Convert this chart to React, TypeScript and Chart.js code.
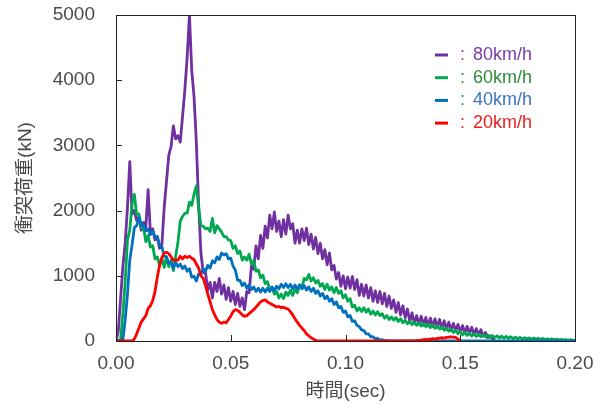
import React, { useEffect, useRef } from "react";
import { Chart, registerables } from "chart.js";

Chart.register(...registerables);

// Sampling interval of the recorded load histories (seconds)
const SAMPLE_STEP_S = 0.001;

const SERIES_LABELS = ["80km/h", "60km/h", "40km/h", "20km/h"];
const X_TICKS = [0, 0.05, 0.1, 0.15, 0.2];
const Y_TICKS = [0, 1000, 2000, 3000, 4000, 5000];

// Collision load (kN), one value per millisecond starting at t = 0
const LOAD_80 = [
  0, 150, 650, 1150, 1500, 2050, 2750, 1950, 2000, 1850,
  1900, 1700, 1820, 1750, 2320, 1650, 1720, 1550, 1600, 1420,
  1480, 2050, 2450, 2850, 2980, 3300, 3100, 3150, 3050, 3450,
  3850, 4350, 5000, 4150, 3750, 3050, 2100, 1350, 1050, 1050,
  780, 900, 660, 900, 760, 960, 720, 860, 640, 820,
  610, 760, 560, 730, 530, 660, 480, 760, 740, 1150,
  1100, 1460, 1260, 1620, 1420, 1760, 1580, 1930, 1720, 1980,
  1680, 1840, 1600, 1860, 1640, 1930, 1720, 1800, 1500, 1700,
  1500, 1720, 1540, 1730, 1480, 1640, 1410, 1590, 1340, 1500,
  1260, 1400, 1170, 1350, 1090, 1160, 950, 1050, 840, 1000,
  800, 980, 810, 990, 790, 940, 700, 870, 690, 860,
  660, 820, 610, 770, 590, 760, 570, 730, 530, 690,
  500, 630, 440, 590, 400, 540, 360, 490, 300, 430,
  270, 390, 260, 380, 240, 360, 230, 350, 220, 340,
  210, 330, 195, 310, 180, 290, 165, 270, 155, 255,
  135, 235, 125, 225, 115, 210, 100, 190, 90, 175,
  75, 130, 50, 80, 30, 40,
];

const LOAD_60 = [
  0, 0, 20, 420, 900, 1550, 1700, 2100, 2250, 1940,
  1950, 1740, 1740, 1520, 1620, 1440, 1460, 1260, 1290, 1160,
  1270, 1130, 1290, 1140, 1240, 1080, 1300, 1520, 1840, 1910,
  1960, 1960, 2130, 2080, 2250, 2380, 2040, 1770, 1760, 1720,
  1730, 1680, 1880, 1660, 1770, 1720, 1670, 1600, 1600, 1550,
  1540, 1420, 1460, 1340, 1380, 1240, 1290, 1240, 1330, 1180,
  1230, 1070, 1090, 970, 1010, 880, 910, 790, 820, 720,
  760, 660, 720, 650, 750, 700, 780, 700, 790, 740,
  860, 820, 960, 940, 1020, 920, 970, 890, 930, 840,
  880, 790, 870, 780, 830, 740, 820, 730, 770, 660,
  710, 610, 650, 520, 550, 460, 510, 450, 510, 440,
  490, 410, 460, 400, 450, 390, 420, 350, 390, 330,
  370, 320, 360, 300, 340, 280, 320, 265, 300, 250,
  290, 240, 280, 230, 270, 220, 260, 205, 245, 195,
  235, 185, 220, 165, 200, 150, 185, 130, 165, 110,
  145, 95, 130, 85, 120, 75, 110, 70, 105, 65,
  95, 60, 90, 55, 85, 50, 80, 45, 75, 42,
  70, 40, 65, 38, 60, 35, 56, 32, 52, 30,
  48, 27, 45, 25, 42, 23, 38, 21, 35, 19,
  32, 17, 29, 15, 26, 13, 23, 11, 20, 10,
  15,
];

const LOAD_40 = [
  0, 0, 0, 20, 320, 720, 1240, 1470, 1740, 1770,
  1890, 1770, 1790, 1690, 1720, 1630, 1690, 1590, 1600, 1470,
  1450, 1300, 1290, 1190, 1210, 1120, 1210, 1140, 1180, 1110,
  1150, 1070, 1110, 980, 990, 920, 1030, 1020, 1110, 1070,
  1160, 1120, 1230, 1200, 1290, 1250, 1350, 1320, 1340, 1260,
  1270, 1150, 1090, 930, 930, 850, 890, 810, 860, 790,
  830, 760, 810, 750, 810, 750, 810, 760, 830, 770,
  840, 800, 870, 820, 880, 820, 870, 800, 860, 800,
  860, 800, 850, 780, 830, 760, 810, 730, 770, 690,
  730, 650, 690, 610, 650, 560, 600, 510, 530, 440,
  460, 370, 390, 300, 310, 240, 220, 170, 160, 110,
  110, 65, 65, 35, 40, 15, 20, 5, 10, 0,
  0, 0, 0, 0, 0, 0, 0, 0, 0, 0,
  0, 0, 0, 0, 0, 0, 0, 0, 0, 0,
  0, 0, 0, 0, 0, 0, 0, 0, 0, 0,
  0, 0, 0, 0, 0, 0, 0, 0, 0, 0,
  0, 0, 0, 0, 0, 0, 0, 0, 0, 0,
  0, 0, 0, 0, 0, 0, 0, 0, 0, 0,
  0, 0, 0, 0, 0, 0, 0, 0, 0, 0,
  0, 0, 0, 0, 0, 0, 0, 0, 0, 0,
  0,
];

const LOAD_20 = [
  0, 0, 0, 0, 0, 0, 0, 0, 30, 110,
  200, 290, 340, 390, 500, 540, 620, 760, 980, 1160,
  1280, 1350, 1360, 1340, 1290, 1240, 1240, 1240, 1300, 1260,
  1300, 1280, 1300, 1270, 1250, 1180, 1120, 1000, 960, 850,
  720, 600, 480, 400, 330, 290, 270, 290, 280, 330,
  380, 450, 480, 470, 440, 400, 380, 390, 420, 450,
  480, 520, 560, 600, 620, 630, 600, 580, 560, 540,
  520, 530, 510, 520, 500, 490, 450, 400, 340, 290,
  240, 200, 160, 110, 80, 50, 30, 10, 0, 0,
  0, 0, 0, 0, 0, 0, 0, 0, 0, 0,
  0, 0, 0, 0, 0, 0, 0, 0, 0, 0,
  0, 0, 0, 0, 0, 0, 0, 0, 0, 0,
  0, 0, 0, 0, 0, 0, 0, 0, 0, 0,
  0, 5, 10, 15, 20, 25, 20, 30, 35, 30,
  40, 45, 50, 45, 55, 60, 65, 60, 55, 30,
  0,
];

const LINE_COLORS = ["#7030A0", "#00A850", "#0070C0", "#FF0000"];
const TEXT_COLORS = ["#7A3AA8", "#2E8B3A", "#3A74C4", "#E82020"];

const FONT_FAMILY = '"Liberation Sans", Arial, "Noto Sans CJK JP", sans-serif';
const AXIS_TEXT = "#4a4a4a";

function toPoints(values: number[]) {
  return values.map((v, i) => ({ x: +(i * SAMPLE_STEP_S).toFixed(3), y: v }));
}

const framePlugin = {
  id: "frameAndTicks",
  afterDatasetsDraw(chart: any) {
    const { ctx, chartArea, scales } = chart;
    const { left, right, top, bottom } = chartArea;
    ctx.save();
    ctx.strokeStyle = "#222";
    ctx.lineWidth = 1;
    ctx.strokeRect(Math.round(left) + 0.5, Math.round(top) + 0.5, Math.round(right - left), Math.round(bottom - top));
    ctx.beginPath();
    X_TICKS.slice(1, -1).forEach((v) => {
      const px = Math.round(scales.x.getPixelForValue(v)) + 0.5;
      ctx.moveTo(px, bottom);
      ctx.lineTo(px, bottom - 6);
    });
    Y_TICKS.slice(1, -1).forEach((v) => {
      const py = Math.round(scales.y.getPixelForValue(v)) + 0.5;
      ctx.moveTo(left, py);
      ctx.lineTo(left + 6, py);
    });
    ctx.stroke();
    ctx.restore();
  },
};

const legendPlugin = {
  id: "inlineLegend",
  afterDraw(chart: any) {
    const { ctx, chartArea } = chart;
    const markerX = chartArea.right - 140;
    const rowY = chartArea.top + 40;
    const rowGap = 22.7;
    ctx.save();
    ctx.font = `18px ${FONT_FAMILY}`;
    ctx.textBaseline = "middle";
    ctx.textAlign = "left";
    SERIES_LABELS.forEach((label, i) => {
      const y = rowY + i * rowGap;
      ctx.strokeStyle = LINE_COLORS[i];
      ctx.lineWidth = 3;
      ctx.beginPath();
      ctx.moveTo(markerX, y);
      ctx.lineTo(markerX + 13, y);
      ctx.stroke();
      ctx.fillStyle = TEXT_COLORS[i];
      ctx.fillText(":", markerX + 25, y);
      ctx.fillText(label, markerX + 38, y);
    });
    ctx.restore();
  },
};

export default function App() {
  const ref = useRef<HTMLCanvasElement>(null);

  useEffect(() => {
    const series = [LOAD_80, LOAD_60, LOAD_40, LOAD_20];
    const chart = new Chart(ref.current as HTMLCanvasElement, {
      type: "line",
      data: {
        datasets: series.map((vals, i) => ({
          label: SERIES_LABELS[i],
          data: toPoints(vals),
          borderColor: LINE_COLORS[i],
          backgroundColor: LINE_COLORS[i],
          borderWidth: 2.8,
          borderJoinStyle: "round" as const,
          pointRadius: 0,
          tension: 0,
          fill: false,
          order: 4 - i,
        })),
      },
      options: {
        animation: false,
        responsive: true,
        maintainAspectRatio: false,
        layout: { padding: { top: 15, right: 25, left: 0, bottom: 0 } },
        plugins: {
          legend: { display: false },
          tooltip: { enabled: false },
        },
        scales: {
          x: {
            type: "linear",
            min: 0,
            max: 0.2,
            afterBuildTicks: (s: any) => {
              s.ticks = X_TICKS.map((v) => ({ value: v }));
            },
            afterFit: (s: any) => {
              s.height = 69;
              s.paddingLeft = 0;
              s.paddingRight = 0;
            },
            ticks: {
              callback: (v: any) => Number(v).toFixed(2),
              font: { family: FONT_FAMILY, size: 19 },
              color: AXIS_TEXT,
              padding: 11,
              maxRotation: 0,
              autoSkip: false,
            },
            grid: { display: false, drawTicks: false },
            border: { display: false },
            title: {
              display: true,
              text: "時間(sec)",
              font: { family: FONT_FAMILY, size: 19 },
              color: AXIS_TEXT,
              padding: { top: 0, bottom: 7 },
            },
          },
          y: {
            min: 0,
            max: 5000,
            afterBuildTicks: (s: any) => {
              s.ticks = Y_TICKS.map((v) => ({ value: v }));
            },
            afterFit: (s: any) => {
              s.width = 116;
              s.paddingTop = 0;
              s.paddingBottom = 0;
            },
            ticks: {
              callback: (v: any) => String(Math.round(Number(v))),
              font: { family: FONT_FAMILY, size: 19 },
              color: AXIS_TEXT,
              padding: 21,
              autoSkip: false,
            },
            grid: { display: false, drawTicks: false },
            border: { display: false },
            title: {
              display: true,
              text: "衝突荷重(kN)",
              font: { family: FONT_FAMILY, size: 19 },
              color: AXIS_TEXT,
              padding: { top: 14, bottom: 0 },
            },
          },
        },
      },
      plugins: [framePlugin, legendPlugin],
    });
    return () => chart.destroy();
  }, []);

  return (
    <div style={{ position: "fixed", left: 0, top: 0, width: 600, height: 410, background: "#fff" }}>
      <canvas ref={ref} />
    </div>
  );
}
